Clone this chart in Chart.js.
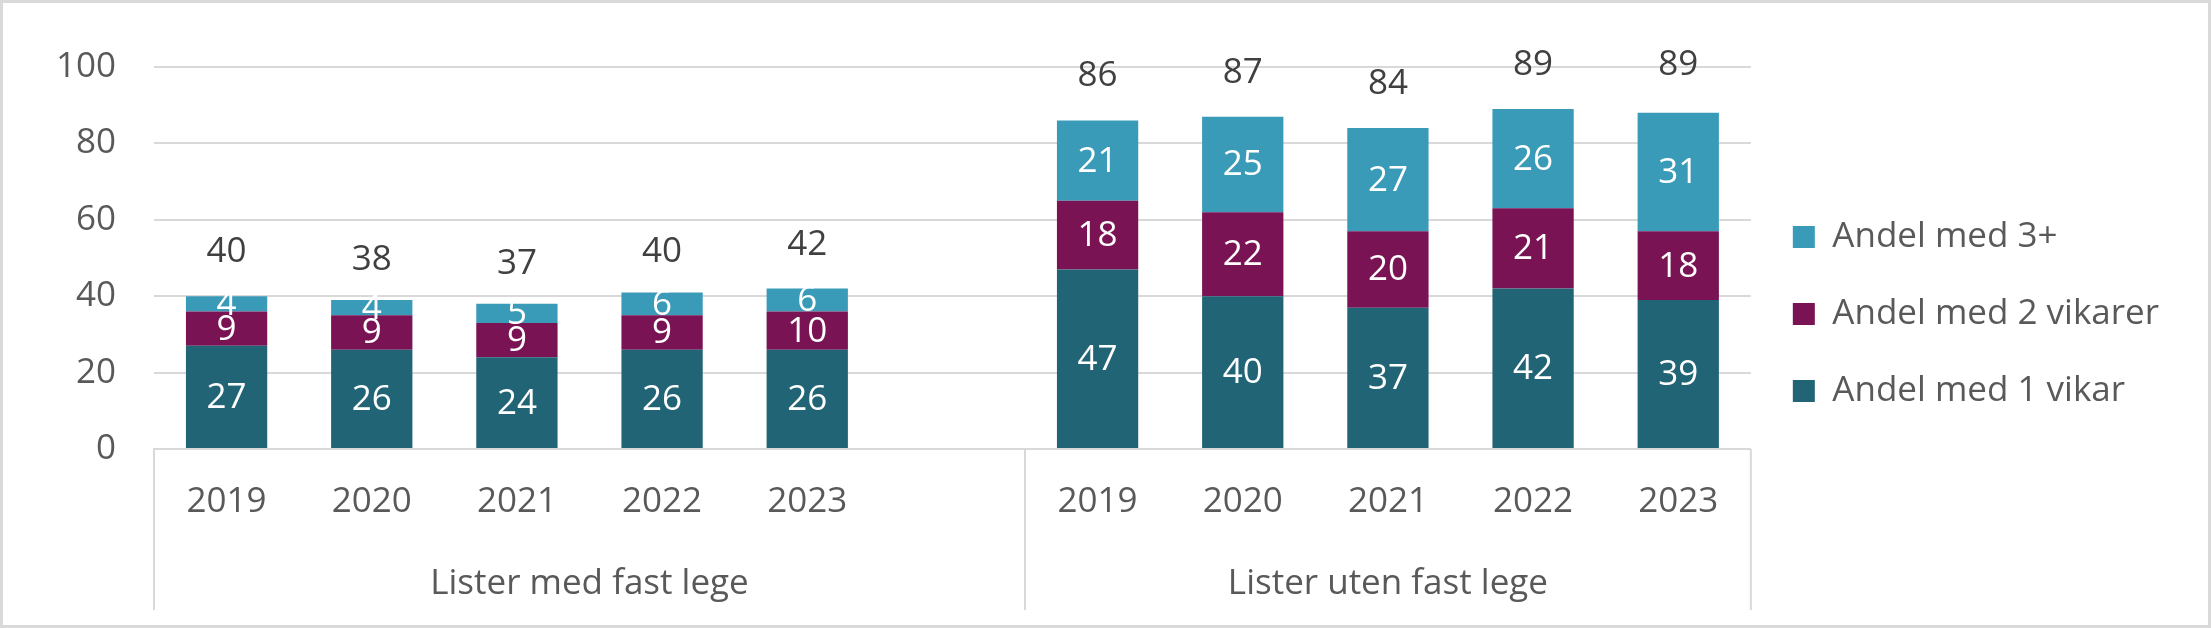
<!DOCTYPE html>
<html>
<head>
<meta charset="utf-8">
<script src="https://cdn.jsdelivr.net/npm/chart.js@4.4.1/dist/chart.umd.min.js"></script>
<style>
  html, body { margin: 0; padding: 0; background: #fff; }
  #frame { position: relative; width: 2211px; height: 628px; background: #fff; box-shadow: inset 0 0 0 3px #d9d9d9; }
  #chart { display: block; }
</style>
</head>
<body>
<div id="frame"><canvas id="chart" width="2211" height="628"></canvas></div>
<script>
const groups = ['Lister med fast lege', 'Lister uten fast lege'];
const years = ['2019', '2020', '2021', '2022', '2023'];
const labels = [...years, '', ...years];

const vikar1 = [27, 26, 24, 26, 26, null, 47, 40, 37, 42, 39];
const vikar2 = [9, 9, 9, 9, 10, null, 18, 22, 20, 21, 18];
const vikar3 = [4, 4, 5, 6, 6, null, 21, 25, 27, 26, 31];
const totals = [40, 38, 37, 40, 42, null, 86, 87, 84, 89, 89];

const FONT = 'Open Sans';
const SIZE = 35;

// white numbers inside the segments + dark totals above each bar
const valueLabels = {
  id: 'valueLabels',
  afterDatasetsDraw(chart) {
    const ctx = chart.ctx;
    ctx.save();
    ctx.font = `${SIZE}px "${FONT}"`;
    ctx.textAlign = 'center';
    ctx.textBaseline = 'middle';
    chart.data.datasets.forEach((ds, i) => {
      const meta = chart.getDatasetMeta(i);
      meta.data.forEach((el, j) => {
        const v = ds.data[j];
        if (v === null) return;
        if (ds.type === 'line') {
          ctx.fillStyle = '#404040';
          ctx.fillText(v, el.x, el.y - 44);
        } else {
          ctx.fillStyle = '#ffffff';
          ctx.fillText(v, el.x, (el.y + el.base) / 2 + 1);
        }
      });
    });
    ctx.restore();
  }
};

// second row of the category axis: group names and separators
const groupAxis = {
  id: 'groupAxis',
  afterDraw(chart) {
    const x = chart.scales.x;
    const ctx = chart.ctx;
    const split = (x.getPixelForTick(years.length) + x.getPixelForTick(years.length + 1)) / 2;
    const edges = [x.left, split, x.right];
    const top = chart.chartArea.bottom;
    ctx.save();
    ctx.strokeStyle = '#d9d9d9';
    ctx.lineWidth = 2;
    edges.forEach(px => {
      ctx.beginPath();
      ctx.moveTo(px, top);
      ctx.lineTo(px, 610);
      ctx.stroke();
    });
    ctx.font = `${SIZE}px "${FONT}"`;
    ctx.fillStyle = '#595959';
    ctx.textAlign = 'center';
    ctx.textBaseline = 'middle';
    groups.forEach((g, i) => {
      ctx.fillText(g, (edges[i] + edges[i + 1]) / 2, 584);
    });
    ctx.restore();
  }
};

function draw() {
  const ctx = document.getElementById('chart').getContext('2d');
  new Chart(ctx, {
    type: 'bar',
    data: {
      labels: labels,
      datasets: [
        { label: 'Andel med 1 vikar', data: vikar1, backgroundColor: '#216476' },
        { label: 'Andel med 2 vikarer', data: vikar2, backgroundColor: '#7a1354' },
        { label: 'Andel med 3+', data: vikar3, backgroundColor: '#3a9bb9' },
        { type: 'line', label: 'Total', data: totals, stack: 'total', showLine: false, pointRadius: 0 }
      ]
    },
    options: {
      responsive: false,
      devicePixelRatio: 1,
      animation: false,
      datasets: { bar: { barPercentage: 0.56, categoryPercentage: 1 } },
      layout: { padding: { top: 67, bottom: 67, left: 0, right: 42 } },
      scales: {
        x: {
          stacked: true,
          grid: { display: false, drawTicks: false },
          border: { display: true, color: '#d9d9d9', width: 2 },
          ticks: { color: '#595959', font: { family: FONT, size: SIZE }, padding: 32, maxRotation: 0, autoSkip: false },
          afterFit: s => { s.height = 112; }
        },
        y: {
          stacked: true,
          min: 0,
          max: 100,
          grid: { color: '#d9d9d9', lineWidth: 2, drawTicks: false },
          border: { display: false },
          ticks: { stepSize: 20, color: '#595959', font: { family: FONT, size: SIZE }, padding: 38 },
          afterFit: s => { s.width = 154; }
        }
      },
      plugins: {
        tooltip: { enabled: false },
        legend: {
          position: 'right',
          reverse: true,
          labels: {
            boxWidth: 22,
            boxHeight: 22,
            padding: 42,
            color: '#595959',
            font: { family: FONT, size: SIZE },
            filter: item => item.text !== 'Total'
          }
        }
      }
    },
    plugins: [valueLabels, groupAxis]
  });
}

document.fonts.load(`${SIZE}px "${FONT}"`).then(draw, draw);
</script>
</body>
</html>
